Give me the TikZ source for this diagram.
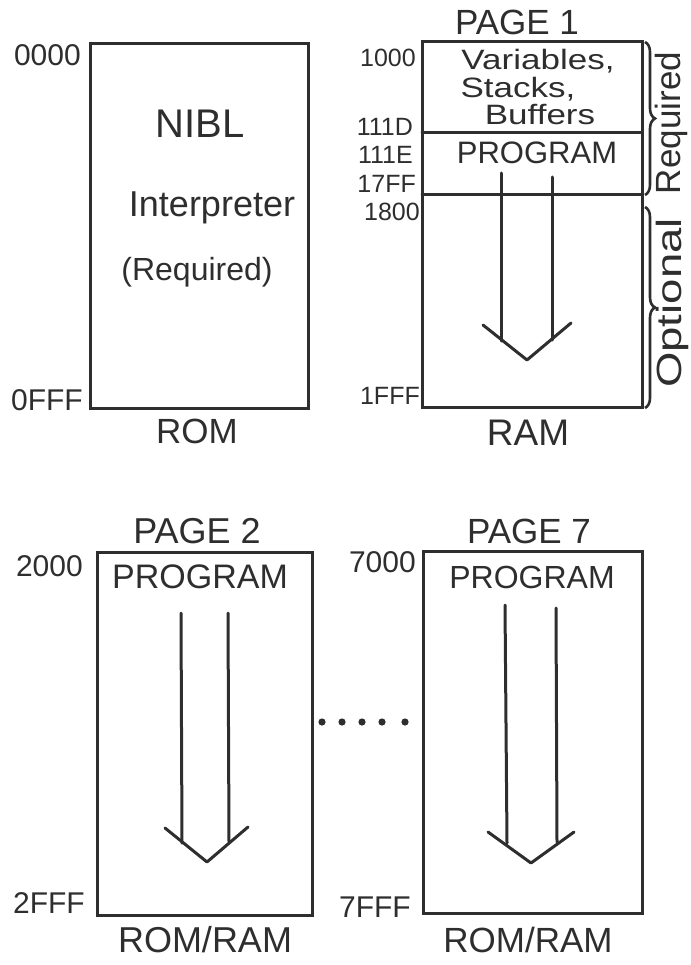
\documentclass[tikz,border=0pt]{standalone}
\usepackage{fontspec}
\setmainfont{Liberation Sans}
\usetikzlibrary{decorations.pathreplacing}
\definecolor{ink}{HTML}{2E2E2E}
\newcommand{\fsz}[1]{\fontsize{#1}{#1}\selectfont}
\newcommand{\hstretch}[2]{\scalebox{#1}[1]{#2}}
\tikzset{
  membox/.style={draw=ink, line width=3pt, rectangle, inner sep=0pt},
  inkline/.style={draw=ink, line width=3pt, line cap=round, line join=round},
  lbl/.style={text=ink, inner sep=0pt},
  addr/.style={lbl, anchor=east, font=\fsz{30}},
  raddr/.style={lbl, anchor=east, font=\fsz{25}},
  title/.style={lbl, font=\fsz{35}},
  bigarrow/.style={inkline},
  curly/.style={draw=ink, line width=2.6pt, decorate, decoration={brace, amplitude=10pt}},
}
\begin{document}
\begin{tikzpicture}[x=1pt,y=1pt]
\useasboundingbox (0,0) rectangle (690,-965);

% ---------- ROM box ----------
\node[membox, minimum width=218pt, minimum height=364pt] (rom) at (199,-226) {};
\node[addr] (a0000) at (81,-55) {0000};
\node[addr] (a0fff) at (83,-400) {0FFF};
\node[lbl, font=\fsz{40}] (nibl) at (200,-124) {NIBL};
\node[lbl, font=\fsz{36}] (interp) at (212,-208) {Interpreter};
\node[lbl, font=\fsz{32}] (req) at (197,-272) {(Required)};
\node[title] (romlbl) at (197,-431) {ROM};

% ---------- RAM box (page 1) ----------
\node[title] (page1) at (517,-22) {PAGE 1};
\node[membox, minimum width=220pt, minimum height=365pt] (ram) at (532,-224.5) {};
\coordinate (d1l) at (422,-133); \coordinate (d1r) at (642,-133);
\coordinate (d2l) at (422,-195); \coordinate (d2r) at (642,-195);
\draw[inkline] (d1l) -- (d1r);
\draw[inkline] (d2l) -- (d2r);
\node[lbl, font=\fsz{28}] (var1) at (538,-61) {\hstretch{1.25}{Variables,}};
\node[lbl, font=\fsz{28}] (var2) at (518,-89) {\hstretch{1.25}{Stacks,}};
\node[lbl, font=\fsz{28}] (var3) at (540,-115) {\hstretch{1.25}{Buffers}};
\node[lbl, font=\fsz{31}] (prog1) at (537,-153) {PROGRAM};
\node[raddr] (a1000) at (416,-58) {1000};
\node[raddr] (a111d) at (413,-127) {111D};
\node[raddr] (a111e) at (413,-155) {111E};
\node[raddr] (a17ff) at (416,-184) {17FF};
\node[raddr] (a1800) at (420,-212) {1800};
\node[raddr] (a1fff) at (420,-396) {1FFF};
\node[lbl, font=\fsz{37}] (ramlbl) at (528,-433) {RAM};
% arrow in RAM
\coordinate (r1t) at (501,-173); \coordinate (r1b) at (501,-341);
\coordinate (r2t) at (552,-177); \coordinate (r2b) at (552,-340);
\coordinate (rwl) at (483,-325); \coordinate (rtip) at (527,-360); \coordinate (rwr) at (571,-323);
\draw[bigarrow] (r1t) -- (r1b);
\draw[bigarrow] (r2t) -- (r2b);
\draw[bigarrow] (rwl) -- (rtip) -- (rwr);
% braces
\coordinate (b1t) at (645,-42); \coordinate (b1b) at (645,-195);
\coordinate (b2t) at (645,-207); \coordinate (b2b) at (645,-408);
\draw[curly] (b1t) -- (b1b);
\draw[curly] (b2t) -- (b2b);
\node[lbl, font=\fsz{35}, rotate=90] (reqside) at (671,-123) {Required};
\node[lbl, font=\fsz{35}, rotate=90] (optside) at (672,-303) {\hstretch{1.3}{Optional}};

% ---------- PAGE 2 ----------
\node[lbl, font=\fsz{36}] (page2) at (197,-531) {PAGE 2};
\node[membox, minimum width=215pt, minimum height=363pt] (p2) at (204.5,-733.5) {};
\node[addr] (a2000) at (83,-566) {2000};
\node[addr] (a2fff) at (85,-903) {2FFF};
\node[lbl, font=\fsz{34}] (prog2) at (200,-577) {PROGRAM};
\node[lbl, font=\fsz{36}] (rr2) at (205,-940) {ROM/RAM};
\coordinate (p2at1) at (181,-613); \coordinate (p2ab1) at (182,-843);
\coordinate (p2at2) at (228,-613); \coordinate (p2ab2) at (229,-842);
\coordinate (p2wl) at (165,-828); \coordinate (p2tip) at (207,-862); \coordinate (p2wr) at (248,-827);
\draw[bigarrow] (p2at1) -- (p2ab1);
\draw[bigarrow] (p2at2) -- (p2ab2);
\draw[bigarrow] (p2wl) -- (p2tip) -- (p2wr);

% dots
\foreach \dx [count=\i] in {322,342,362,382,405} {
  \fill[ink] (\dx,-722) circle (3.6);
}

% ---------- PAGE 7 ----------
\node[title] (page7) at (529,-531) {PAGE 7};
\node[membox, minimum width=219pt, minimum height=362pt] (p7) at (532.5,-732) {};
\node[addr] (a7000) at (416,-562) {7000};
\node[addr] (a7fff) at (411,-907) {7FFF};
\node[lbl, font=\fsz{32}] (prog7) at (532,-577) {PROGRAM};
\node[lbl, font=\fsz{35}] (rr7) at (528,-940) {ROM/RAM};
\coordinate (p7at1) at (505,-605); \coordinate (p7ab1) at (507,-843);
\coordinate (p7at2) at (556,-608); \coordinate (p7ab2) at (557,-842);
\coordinate (p7wl) at (488,-832); \coordinate (p7tip) at (531,-863); \coordinate (p7wr) at (574,-832);
\draw[bigarrow] (p7at1) -- (p7ab1);
\draw[bigarrow] (p7at2) -- (p7ab2);
\draw[bigarrow] (p7wl) -- (p7tip) -- (p7wr);
\end{tikzpicture}
\end{document}
